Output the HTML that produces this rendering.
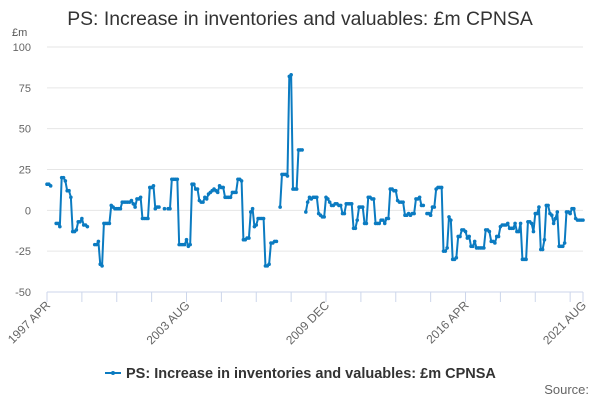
<!DOCTYPE html>
<html><head><meta charset="utf-8"><style>
body{margin:0;background:#fff;}
svg{display:block;font-family:"Liberation Sans","DejaVu Sans",sans-serif;}
</style></head><body>
<svg id="chart" width="600" height="400">
<text x="300" y="25" text-anchor="middle" font-size="19.4" fill="#333">PS: Increase in inventories and valuables: £m CPNSA</text>
<text x="12" y="36" font-size="11" fill="#555">£m</text>
<g id="grid"></g><g id="yticks"></g><g id="xticks"></g><g id="series"></g>
<g>
<line x1="105" y1="373" x2="121" y2="373" stroke="#0b7bc1" stroke-width="2"/>
<circle cx="113" cy="373" r="2" fill="#0b7bc1"/>
<text x="126" y="378" font-size="14.5" font-weight="bold" fill="#333">PS: Increase in inventories and valuables: £m CPNSA</text>
</g>
<text x="589" y="394" text-anchor="end" font-size="13" fill="#666">Source:</text>
</svg>
<script>
const startYear = 1997, startMonth = 3;
const yTicks = [100, 75, 50, 25, 0, -25, -50];
const xLabelIdx = [0, 76, 152, 228, 292];
const xLabels = ["1997 APR", "2003 AUG", "2009 DEC", "2016 APR", "2021 AUG"];
const values = [16,16,15,null,null,-8,-8,-10,20,20,18,12,12,8,-13,-13,-12,-7,-7,-5,-9,-9,-10,null,null,null,
-21,-21,-19,-33,-34,-8,-8,-8,-8,3,2,1,1,1,1,5,5,5,5,5,6,4,2,7,7,8,-5,-5,-5,-5,14,14,15,1,2,2,null,null,1,null,1,1,
19,19,19,19,-21,-21,-21,-21,-18,-22,-21,16,16,13,13,6,5,5,8,7,10,11,12,13,12,11,15,14,14,8,8,8,8,11,11,11,19,19,18,
-18,-18,-17,-17,-1,1,-10,-9,-5,-5,-5,-5,-34,-34,-33,-20,-20,-19,-19,null,2,22,22,22,21,82,83,13,13,13,37,37,37,null,
-1,5,8,7,8,8,8,-2,-3,-4,-4,8,7,5,3,3,4,4,3,3,-2,-2,4,4,4,4,-11,-11,-6,2,2,2,-8,-8,8,8,7,7,-8,-8,-8,-6,-6,-8,-5,-5,
13,13,12,12,6,5,5,5,-3,-3,-2,-3,-2,-2,7,7,8,3,3,null,-2,-2,-3,2,2,13,14,14,14,-25,-25,-23,-4,-6,-30,-30,-29,-16,-16,
-12,-12,-13,-17,-16,-22,-22,-19,-23,-23,-23,-23,-23,-12,-12,-13,-19,-19,-20,-16,-16,-10,-9,-9,-9,-8,-11,-11,-11,
-8,-13,-13,-8,-30,-30,-30,-7,-7,-8,-13,-2,-2,2,-24,-24,-18,3,3,-2,-3,-8,-5,-1,-22,-22,-22,-20,-1,-1,-2,1,1,-5,-6,-6,-6,-6];

const X0 = 47, X1 = 583, Y0 = 292, Y1 = 47, VMIN = -50, VMAX = 100;
const N = values.length;
const xs = i => X0 + (X1 - X0) * i / (N - 1);
const ys = v => Y0 - (v - VMIN) / (VMAX - VMIN) * (Y0 - Y1);
const NS = "http://www.w3.org/2000/svg";
function mk(tag, attrs, parent){const e=document.createElementNS(NS,tag);for(const k in attrs)e.setAttribute(k,attrs[k]);parent.appendChild(e);return e;}
const grid=document.getElementById('grid'), yt=document.getElementById('yticks'), xt=document.getElementById('xticks'), ser=document.getElementById('series');
yTicks.forEach(v=>{
  const l=mk('line',{x1:X0,x2:X1,y1:ys(v),y2:ys(v),stroke:v===VMIN?'#ccd6eb':'#e6e6e6','stroke-width':1},grid);
  
  
  const t=mk('text',{x:31,y:ys(v)+4,'text-anchor':'end','font-size':11,fill:'#666'},yt);
  t.textContent=v;
  
  
});
const tickIdx=[];for(let i=0;i<N;i+=19)tickIdx.push(i);tickIdx.push(N-1);
tickIdx.forEach(i=>{
  const l=mk('line',{x1:xs(i),x2:xs(i),y1:Y0,y2:Y0+10,stroke:'#ccd6eb','stroke-width':1},xt);
  
  
});
xLabelIdx.forEach((i,k)=>{
  const x=xs(i);
  const t=mk('text',{x:x+4,y:Y0+14,'text-anchor':'end','font-size':12,fill:'#666',transform:`rotate(-45 ${x+4} ${Y0+14})`},xt);
  t.textContent=xLabels[k];
  
  
});
let d='',pen=false;
values.forEach((v,i)=>{ if(v===null){pen=false;return;} d+=(pen?'L':'M')+xs(i).toFixed(2)+' '+ys(v).toFixed(2)+' '; pen=true; });
const path=mk('path',{d:d,fill:'none',stroke:'#0b7bc1','stroke-width':2,'stroke-linejoin':'round'},ser);


values.forEach((v,i)=>{ if(v===null)return;
  const c=mk('circle',{cx:xs(i),cy:ys(v),r:1.8,fill:'#0b7bc1'},ser);
  
  
});
</script>
</body></html>
